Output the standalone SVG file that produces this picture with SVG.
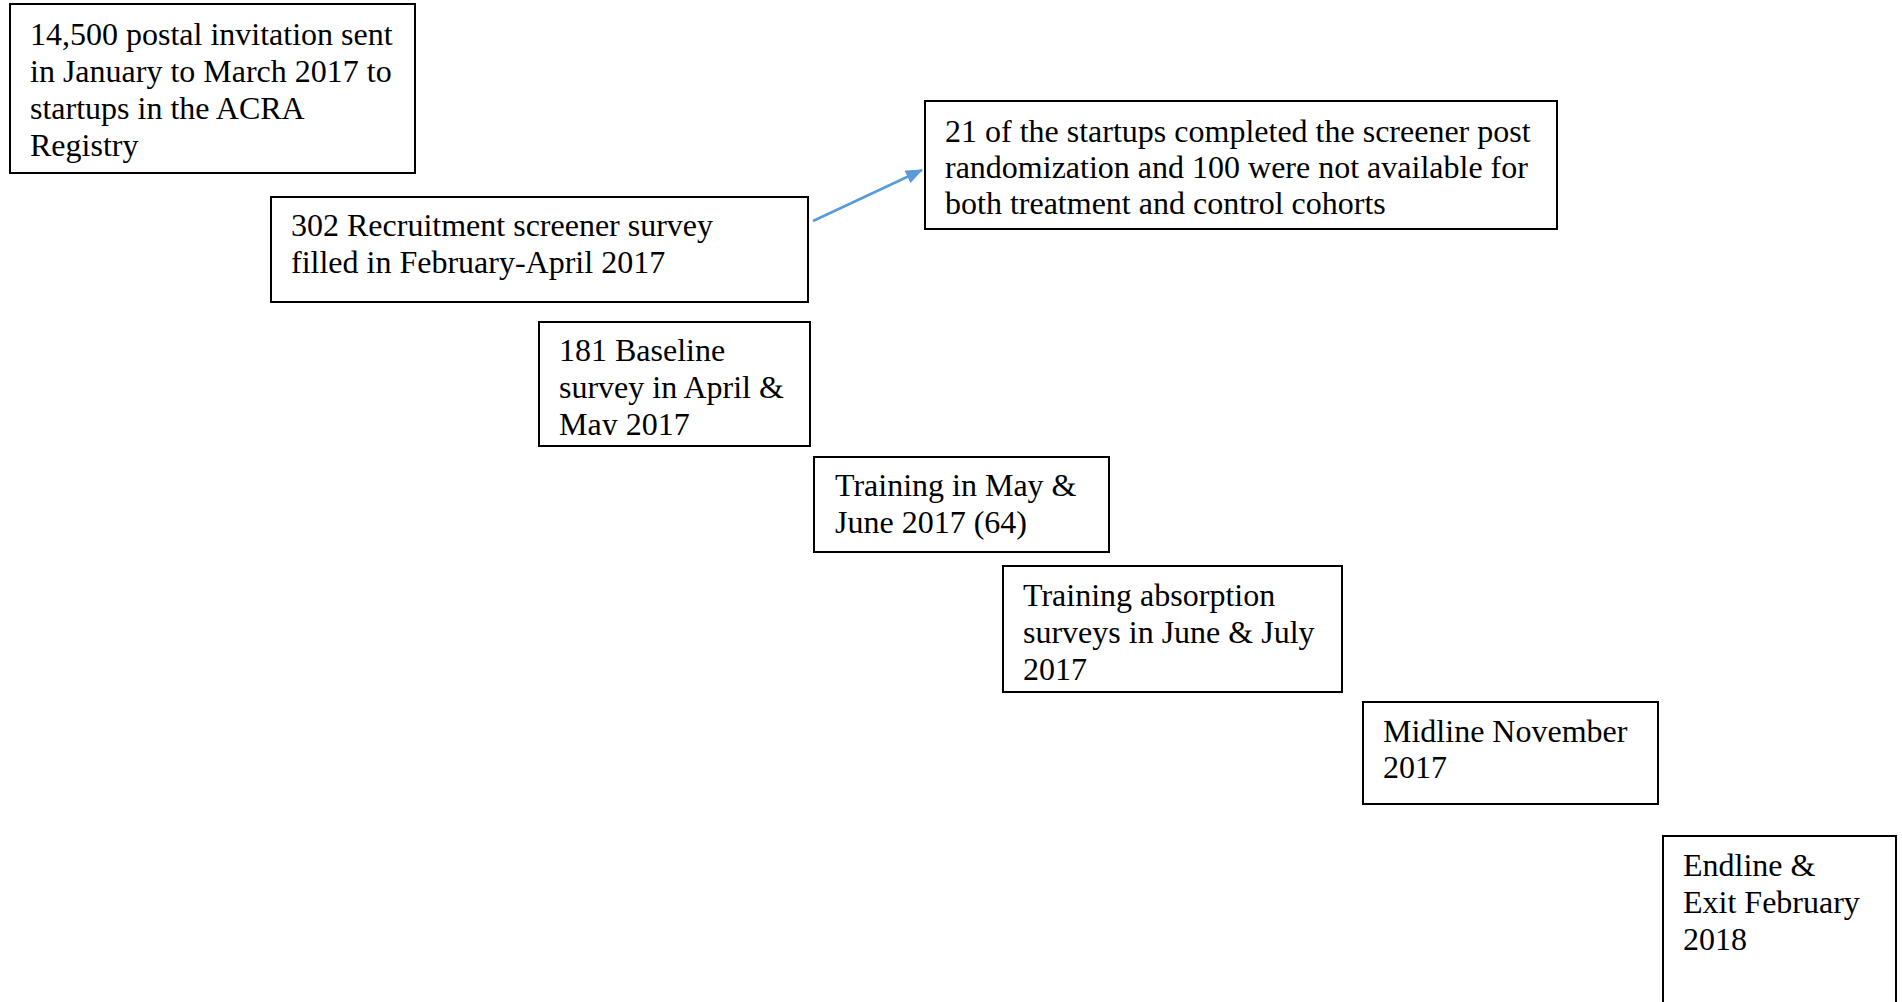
<svg xmlns="http://www.w3.org/2000/svg" width="1902" height="1002" viewBox="0 0 1902 1002">
<style>
.box{fill:#fff;stroke:#000;stroke-width:2}
.t{font-family:"Liberation Serif","Times New Roman",serif;font-size:32px;fill:#000}
.conn{stroke:#5B9BD5;stroke-width:2.5;fill:none}
</style>
<defs>
<marker id="ah" markerWidth="17" markerHeight="14" refX="16" refY="7" orient="auto" markerUnits="userSpaceOnUse" viewBox="0 0 17 14">
<path d="M0,0 L17,7 L0,14 z" fill="#5B9BD5"/>
</marker>
<clipPath id="clip3"><rect x="538" y="320" width="274" height="115"/></clipPath>
</defs>
<rect width="1902" height="1002" fill="#fff"/>
<g id="n1">
<rect class="box" x="10" y="4" width="405" height="169"/>
<text class="t" x="30" y="45">14,500 postal invitation sent</text>
<text class="t" x="30" y="82">in January to March 2017 to</text>
<text class="t" x="30" y="119">startups in the ACRA</text>
<text class="t" x="30" y="156">Registry</text>
</g>
<g id="n2">
<rect class="box" x="271" y="197" width="537" height="105"/>
<text class="t" x="291" y="236">302 Recruitment screener survey</text>
<text class="t" x="291" y="273">filled in February-April 2017</text>
</g>
<g id="n3">
<rect class="box" x="539" y="322" width="271" height="124"/>
<g clip-path="url(#clip3)">
<text class="t" x="559" y="361">181 Baseline</text>
<text class="t" x="559" y="398">survey in April &amp;</text>
<text class="t" x="559" y="435">May 2017</text>
</g>
</g>
<g id="n4">
<rect class="box" x="814" y="457" width="295" height="95"/>
<text class="t" x="835" y="496">Training in May &amp;</text>
<text class="t" x="835" y="533">June 2017 (64)</text>
</g>
<g id="n5">
<rect class="box" x="1003" y="566" width="339" height="126"/>
<text class="t" x="1023" y="606">Training absorption</text>
<text class="t" x="1023" y="643">surveys in June &amp; July</text>
<text class="t" x="1023" y="680">2017</text>
</g>
<g id="n6">
<rect class="box" x="1363" y="702" width="295" height="102"/>
<text class="t" x="1383" y="742">Midline November</text>
<text class="t" x="1383" y="778">2017</text>
</g>
<g id="n7">
<rect class="box" x="1663" y="836" width="233" height="200"/>
<text class="t" x="1683" y="876">Endline &amp;</text>
<text class="t" x="1683" y="913">Exit February</text>
<text class="t" x="1683" y="950">2018</text>
</g>
<g id="n8">
<rect class="box" x="925" y="101" width="632" height="128"/>
<text class="t" x="945" y="142">21 of the startups completed the screener post</text>
<text class="t" x="945" y="178">randomization and 100 were not available for</text>
<text class="t" x="945" y="214">both treatment and control cohorts</text>
</g>
<g id="connectors">
<line class="conn" x1="813" y1="221" x2="922" y2="170" marker-end="url(#ah)"/>
</g>
</svg>
